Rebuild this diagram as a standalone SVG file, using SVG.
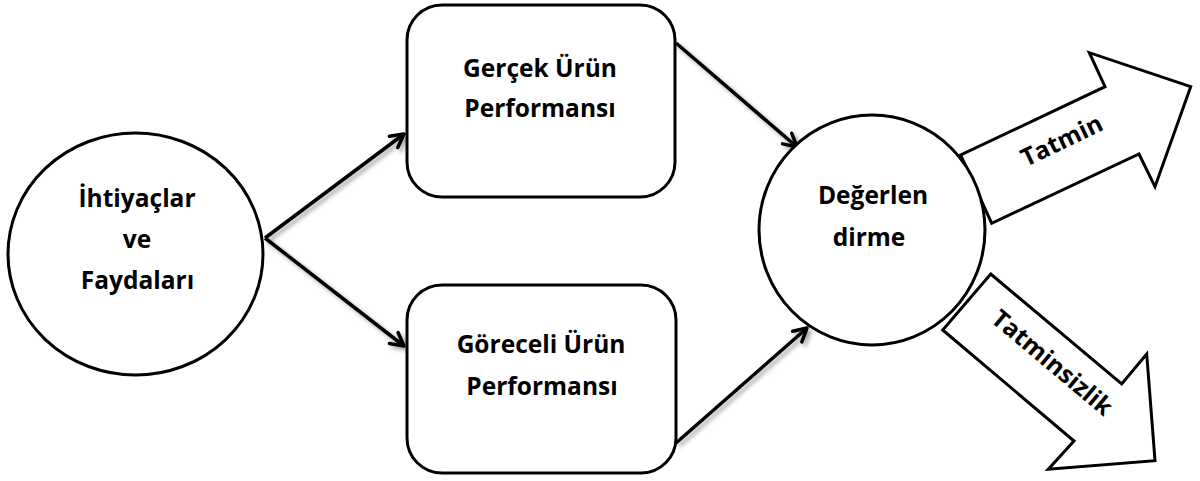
<svg xmlns="http://www.w3.org/2000/svg" width="1200" height="481" viewBox="0 0 1200 481">
  <style>
    .shape { fill: #ffffff; stroke: #000000; stroke-width: 3; stroke-linejoin: miter; }
    .label { font-family: "Open Sans", "Liberation Sans", sans-serif; font-weight: 700; font-size: 24.5px; fill: #000000; text-anchor: middle; }
    .link { fill: none; stroke: #000000; stroke-width: 3.5; marker-end: url(#head); }
  </style>
  <defs>
    <marker id="head" markerUnits="userSpaceOnUse" viewBox="-16 -10 20 20" refX="0" refY="0" markerWidth="20" markerHeight="20" orient="auto">
      <path d="M -13,-7 L 0,0 L -13,7" fill="none" stroke="#000000" stroke-width="3.5" stroke-linecap="round" stroke-linejoin="round"/>
    </marker>
    <filter id="soft" x="-20%" y="-20%" width="140%" height="140%">
      <feDropShadow dx="3" dy="3" stdDeviation="2" flood-color="#000000" flood-opacity="0.35"/>
    </filter>
  </defs>

  <rect width="1200" height="481" fill="#ffffff"/>

  <!-- outcome arrows -->
  <g id="tatmin">
    <polygon class="shape" points="991.7,223.3 960.7,155 1105,86.7 1089.3,52.7 1190.7,86.7 1155,186.7 1139,154"/>
    <text class="label" font-size="25" transform="translate(1062,141) rotate(-25.5)" y="8">Tatmin</text>
  </g>
  <g id="tatminsizlik">
    <polygon class="shape" points="990.7,274 1121.7,384 1146.7,354 1155,460.7 1048.3,469.3 1074,441 942.7,330"/>
    <text class="label" font-size="24" transform="translate(1052,363) rotate(40)" y="8">Tatminsizlik</text>
  </g>

  <!-- connectors -->
  <g id="connectors" filter="url(#soft)">
    <path class="link" d="M 265,238 L 404,134"/>
    <path class="link" d="M 265,238 L 404,346"/>
    <path class="link" d="M 676,43 L 797,147"/>
    <path class="link" d="M 676,443 L 807,328"/>
  </g>

  <g id="ihtiyaclar">
    <ellipse class="shape" cx="135.5" cy="254" rx="127.5" ry="121"/>
    <text class="label" x="137" y="207">İhtiyaçlar</text>
    <text class="label" x="137" y="248">ve</text>
    <text class="label" x="137.5" y="289">Faydaları</text>
  </g>

  <g id="gercek">
    <rect class="shape" x="407" y="5" width="268" height="192" rx="35" ry="35"/>
    <text class="label" x="540" y="77">Gerçek Ürün</text>
    <text class="label" x="540" y="117">Performansı</text>
  </g>

  <g id="goreceli">
    <rect class="shape" x="407" y="285" width="269" height="188" rx="35" ry="35"/>
    <text class="label" x="541" y="353">Göreceli Ürün</text>
    <text class="label" x="542" y="395">Performansı</text>
  </g>

  <g id="degerlendirme">
    <ellipse class="shape" cx="872" cy="230" rx="113" ry="115"/>
    <text class="label" x="873" y="204">Değerlen</text>
    <text class="label" x="869" y="246">dirme</text>
  </g>
</svg>
